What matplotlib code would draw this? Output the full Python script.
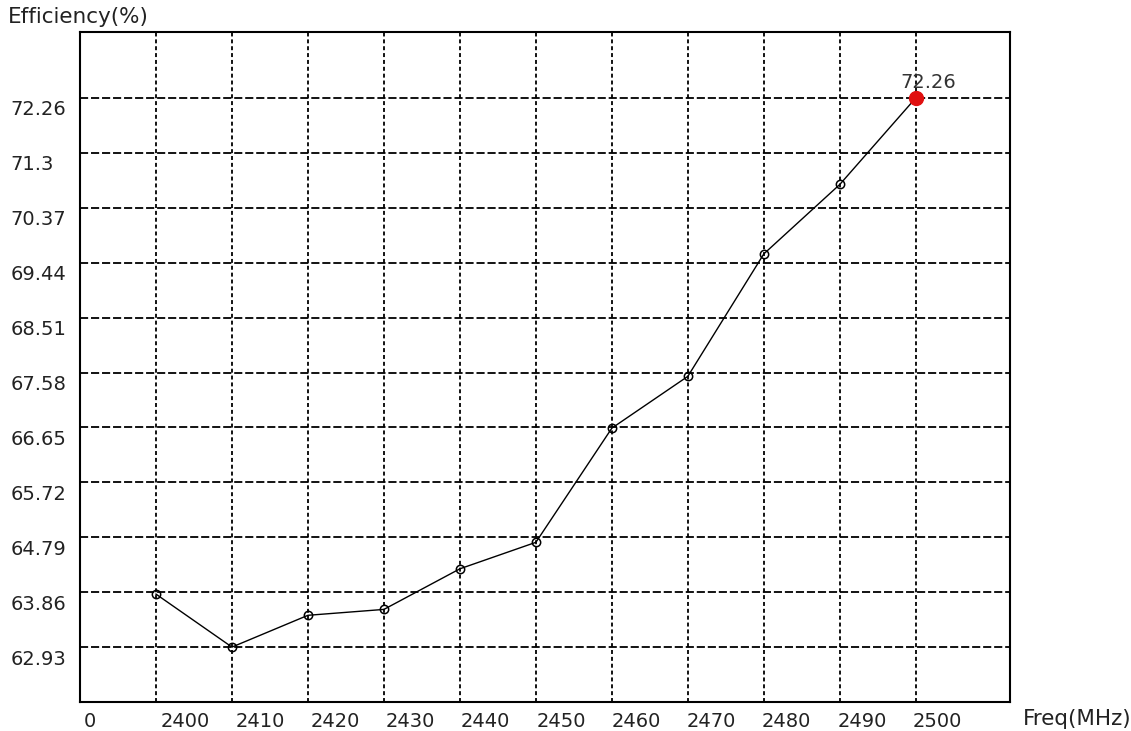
import matplotlib
matplotlib.use("Agg")
import matplotlib.pyplot as plt
from matplotlib.transforms import ScaledTranslation

freqs = [2400, 2410, 2420, 2430, 2440, 2450, 2460, 2470, 2480, 2490, 2500]
eff = [63.83, 62.93, 63.47, 63.57, 64.26, 64.71, 66.65, 67.53, 69.61, 70.79, 72.26]
ytick_labels = ["62.93", "63.86", "64.79", "65.72", "66.65", "67.58",
                "68.51", "69.44", "70.37", "71.3", "72.26"]
xtick_labels = ["0"] + [str(f) for f in freqs]
peak_label = "72.26"

plt.rcParams['font.family'] = ['DejaVu Sans']
fig = plt.figure(figsize=(11.31, 7.31), dpi=100)
ax = fig.add_axes([80/1131, 29/731, 930/1131, 670/731])

ymin, ymax = 62.93, 72.26
step = (ymax - ymin) / 10
yticks = [ymin + i * step for i in range(11)]

ax.set_xlim(2390, 2512.4)
ax.set_ylim(ymin - step * 1.0, ymax + 1.12)

# grid lines
for f in freqs:
    ax.axvline(f, color='black', lw=1.3, linestyle=(0, (2.2, 1.6)), zorder=1)
for y in yticks:
    ax.axhline(y, color='black', lw=1.3, linestyle=(0, (4.5, 1.6)), zorder=1)

ax.plot(freqs, eff, color='black', lw=1.0, marker='o', ms=6,
        mfc='none', mec='black', mew=1.1, zorder=3)
ax.plot([freqs[-1]], [eff[-1]], 'o', color='#e01010', ms=10, zorder=4)
ax.annotate(peak_label, (freqs[-1], eff[-1]), xytext=(12, 6),
            textcoords='offset pixels', ha='center', va='bottom',
            fontsize=14, color='#333333', zorder=5)

# x tick labels (offset from grid positions, as in the original)
xpos = [2391.3] + [f + 3.8 - 0.1 * i for i, f in enumerate(freqs)]
ax.set_xticks(xpos)
ax.set_xticklabels(xtick_labels)
ax.set_yticks(yticks)
ax.set_yticklabels(ytick_labels)
ax.tick_params(axis='both', length=0, labelsize=14, colors='#222222')
ax.tick_params(axis='x', pad=7)
ax.tick_params(axis='y', pad=50)
shift = ScaledTranslation(0, -10 / 100, fig.dpi_scale_trans)
for lab in ax.get_yticklabels():
    lab.set_horizontalalignment('left')
    lab.set_transform(lab.get_transform() + shift)

for s in ax.spines.values():
    s.set_linewidth(1.5)
    s.set_color('black')

ax.set_xlabel("Freq(MHz)", fontsize=15.5, color='#222222')
ax.xaxis.set_label_coords(1.072, -0.025)
ax.xaxis.label.set_va('center')
ax.set_ylabel("Efficiency(%)", fontsize=15.5, color='#222222', rotation=0)
ax.yaxis.set_label_coords(-0.002, 1.022)
ax.yaxis.label.set_va('center')
ax.yaxis.label.set_ha('center')

fig.savefig("out.png", dpi=100)
